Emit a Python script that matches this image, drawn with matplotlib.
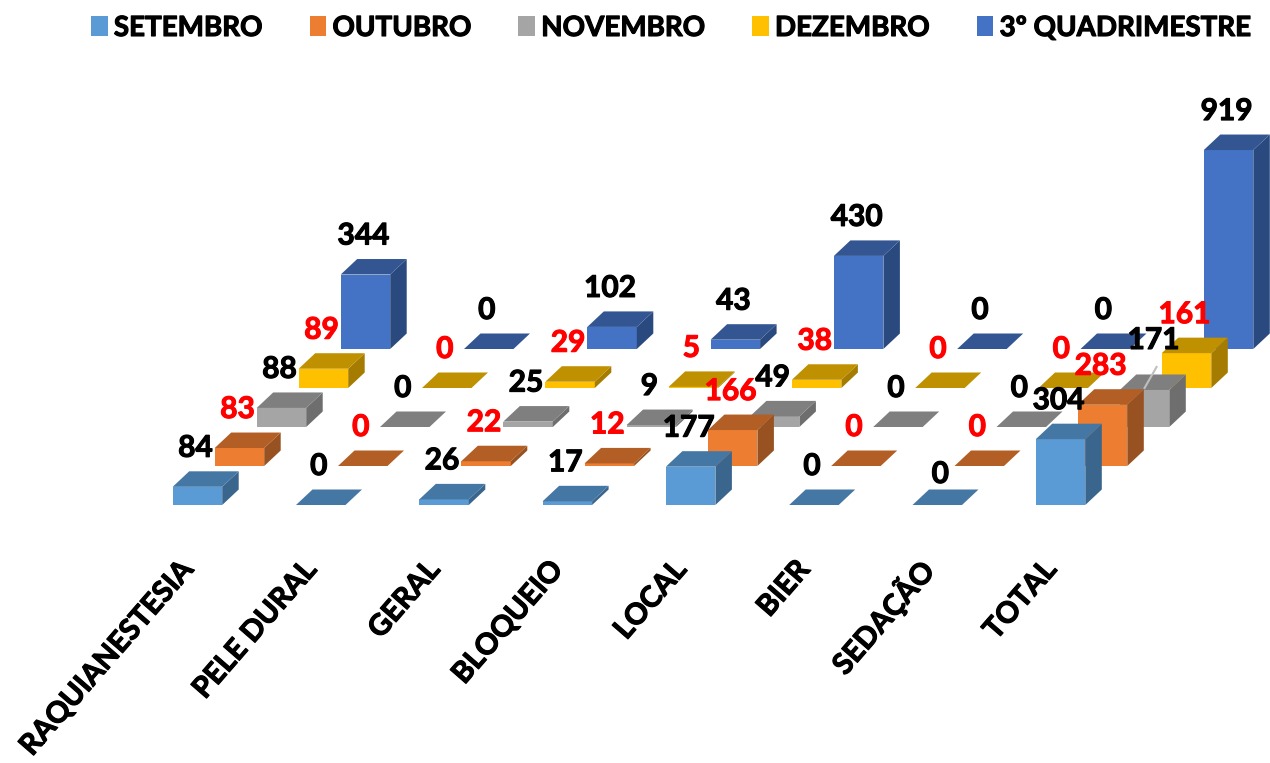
import matplotlib
matplotlib.use("Agg")
import matplotlib.pyplot as plt
import matplotlib.patheffects as pe
from matplotlib.patches import Polygon, Patch

categories = ["RAQUIANESTESIA", "PELE DURAL", "GERAL", "BLOQUEIO", "LOCAL", "BIER", "SEDAÇÃO", "TOTAL"]
series_names = ["SETEMBRO", "OUTUBRO", "NOVEMBRO", "DEZEMBRO", "3º QUADRIMESTRE"]
setembro = [84, 0, 26, 17, 177, 0, 0, 304]
outubro = [83, 0, 22, 12, 166, 0, 0, 283]
novembro = [88, 0, 25, 9, 49, 0, 0, 171]
dezembro = [89, 0, 29, 5, 38, 0, 0, 161]
quadrimestre = [344, 0, 102, 43, 430, 0, 0, 919]
series_values = [setembro, outubro, novembro, dezembro, quadrimestre]

front_colors = ["#5B9BD5", "#ED7D31", "#A5A5A5", "#FFC000", "#4472C4"]
top_colors = ["#4477A3", "#B25E24", "#7F7F7F", "#BF9000", "#335693"]
side_colors = ["#3A668E", "#985120", "#6E6E6E", "#A67C00", "#2A4A7F"]
label_colors = ["black", "#FF0000", "black", "#FF0000", "black"]

# oblique projection (pixel units of the full-figure axes)
X0, Y0 = 172.7, 505.0
COL_DX = 123.3
ROW_DX, ROW_DY = 42.0, -39.0
BAR_W = 49.5
DEPTH_DX, DEPTH_DY = 16.5, -15.5
VALUE_SCALE = 0.2165
LABEL_GAP = 39.0
FONT = "Lato"


def base(col, row):
    return X0 + col * COL_DX + row * ROW_DX, Y0 + row * ROW_DY


def heavy(color):
    return [pe.withStroke(linewidth=0.8, foreground=color)]


fig = plt.figure(figsize=(12.7, 7.63), dpi=100)
ax = fig.add_axes([0, 0, 1, 1])
ax.set_xlim(0, 1270)
ax.set_ylim(763, 0)
ax.axis("off")

z = 1
for row in range(len(series_values) - 1, -1, -1):
    for col, value in enumerate(series_values[row]):
        x, y = base(col, row)
        h = value * VALUE_SCALE
        top = y - h
        r = x + BAR_W
        if h > 0:
            ax.add_patch(Polygon([(x, y), (r, y), (r, top), (x, top)], fc=front_colors[row], lw=0, zorder=z))
            ax.add_patch(Polygon([(r, y), (r + DEPTH_DX, y + DEPTH_DY), (r + DEPTH_DX, top + DEPTH_DY), (r, top)],
                                 fc=side_colors[row], lw=0, zorder=z))
        ax.add_patch(Polygon([(x, top), (r, top), (r + DEPTH_DX, top + DEPTH_DY), (x + DEPTH_DX, top + DEPTH_DY)],
                             fc=top_colors[row], lw=0, zorder=z))
    z += 1

# value labels: centred above each bar, two were moved by hand in the original
moved = {(0, 6): (5, 8), (2, 7): (11, -11)}
for row, values in enumerate(series_values):
    for col, value in enumerate(values):
        x, y = base(col, row)
        dx, dy = moved.get((row, col), (0, 0))
        ax.text(x + BAR_W / 2 - 2 + dx, y - value * VALUE_SCALE - LABEL_GAP + dy, str(value),
                color=label_colors[row], fontsize=21.5, fontweight="bold", family=FONT,
                ha="center", va="center", zorder=50, path_effects=heavy(label_colors[row]))

# leader line of the moved label
x, y = base(7, 2)
ax.plot([x + BAR_W / 2 + 12, x + BAR_W / 2],
        [y - novembro[7] * VALUE_SCALE - 23, y - novembro[7] * VALUE_SCALE - 2],
        color="#BFBFBF", lw=1.5, zorder=40)

# category labels
for col, name in enumerate(categories):
    x, y = base(col, 0)
    ax.text(x + BAR_W / 2 - 9, y + 60, name, rotation=49, rotation_mode="anchor",
            ha="right", va="center", fontsize=21, fontweight="bold", family=FONT, color="black",
            path_effects=heavy("black"))

handles = [Patch(fc=c, lw=0, label=n) for c, n in zip(front_colors, series_names)]
legend = ax.legend(handles=handles, ncol=5, loc="center", bbox_to_anchor=(671 / 1270, 1 - 28 / 763),
                   bbox_transform=fig.transFigure, frameon=False,
                   prop={"family": FONT, "weight": "bold", "size": 20},
                   handlelength=0.6, handleheight=0.75, handletextpad=0.22, columnspacing=1.7)
for text in legend.get_texts():
    text.set_path_effects(heavy("black"))

fig.savefig("out.png", dpi=100)
